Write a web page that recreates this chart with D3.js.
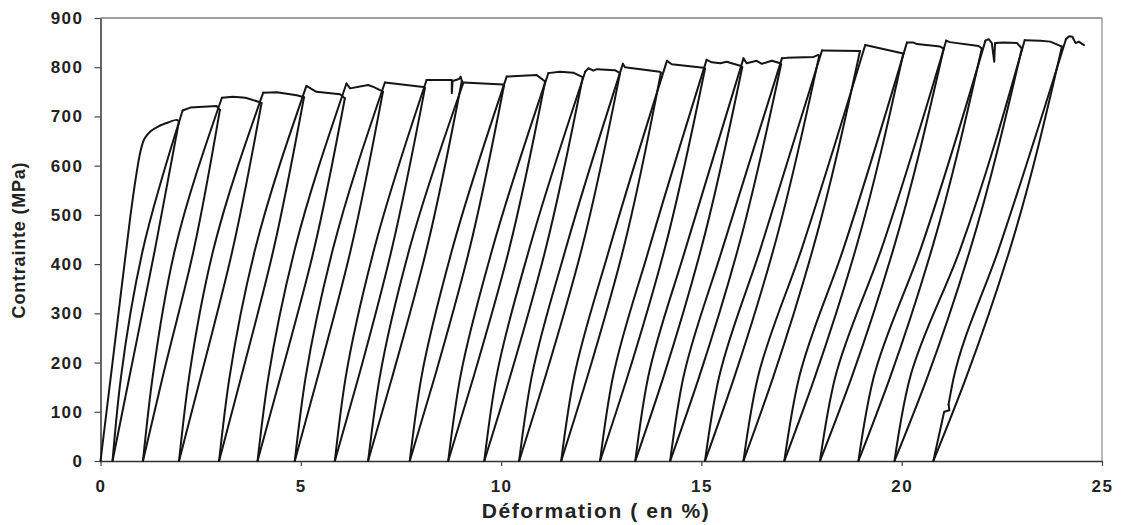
<!DOCTYPE html>
<html>
<head>
<meta charset="utf-8">
<script src="https://cdn.jsdelivr.net/npm/d3@7"></script>
<style>
  html, body { margin: 0; padding: 0; background: #fff; }
  svg { display: block; }
  .tick text { font-family: "Liberation Sans", Arial, sans-serif; font-weight: bold; font-size: 17px; fill: #222; letter-spacing: 1.5px; }
  .title { font-family: "Liberation Sans", Arial, sans-serif; font-weight: bold; fill: #222; }
</style>
</head>
<body>
<svg id="chart" width="1121" height="525"></svg>
<script>
// ---------- DATA ----------
const xTicks = [0, 5, 10, 15, 20, 25];
const yTicks = [0, 100, 200, 300, 400, 500, 600, 700, 800, 900];
const xLabel = "Déformation ( en %)";
const yLabel = "Contrainte (MPa)";

// first monotonic loading [strain %, stress MPa]
const firstLoading = [[0,0],[0.3,200],[0.55,368],[0.75,500],[0.9,585],[1.0,630],[1.1,655],[1.25,670],[1.45,680],[1.7,688],[1.9,693],[1.96,690]];

// residual strain at zero stress after each unloading
const residualStrain = [0.30,1.06,1.96,2.96,3.92,4.85,5.85,6.68,7.72,8.68,9.58,10.45,11.50,12.47,13.35,14.22,15.09,16.05,17.07,17.96,18.92,19.82,20.79];

// stress levels at which the loop branches were read
const midStress = [170, 430];
// unloading branch strains at 170 and 430 MPa
const unloadAt170 = [0.72,1.55,2.50,3.51,4.49,5.42,6.44,7.28,8.34,9.31,10.22,11.10,12.15,13.15,14.05,14.94,15.82,16.79,17.83,18.75,19.71,20.64,21.61];
const unloadAt430 = [1.36,2.33,3.30,4.32,5.33,6.25,7.27,8.14,9.21,10.20,11.11,12.01,13.05,14.08,14.99,15.91,16.80,17.78,18.85,19.79,20.75,21.71,22.70];
// reloading branch strains at 170 and 430 MPa
const reloadAt170 = [0.51,1.30,2.21,3.22,4.19,5.12,6.12,6.97,8.01,8.98,9.88,10.76,11.82,12.79,13.67,14.55,15.44,16.41,17.44,18.34,19.30,20.21,21.30];
const reloadAt430 = [1.06,1.86,2.82,3.86,4.85,5.80,6.83,7.71,8.78,9.78,10.70,11.61,12.70,13.69,14.60,15.52,16.47,17.50,18.54,19.49,20.47,21.46,22.42];
// small jog on the last reloading branch
const lastReloadJog = [[21.06,100],[21.19,103],[21.17,115]];

// plastic plateaus reached after each reloading (last point = next unloading start)
const plateaus = [
  [[2.05,712],[2.24,718],[2.90,721],[2.98,713]],
  [[3.03,738],[3.31,740],[3.62,738],[3.94,730],[4.02,727]],
  [[4.06,748],[4.40,749],[4.90,743],[5.08,739]],
  [[5.14,762],[5.39,750],[5.98,745],[6.10,737]],
  [[6.14,767],[6.23,757],[6.68,764],[6.81,760],[7.02,752],[7.05,750]],
  [[7.10,769],[8.06,760],[8.10,758]],
  [[8.14,774],[8.77,774],[8.77,747],[8.79,772],[8.95,776],[8.99,781],[9.02,772]],
  [[9.06,769],[10.05,765],[10.07,762]],
  [[10.14,781],[10.89,784],[11.10,771]],
  [[11.18,788],[11.47,791],[11.64,790],[11.80,789],[12.01,781],[12.04,780]],
  [[12.10,791],[12.18,798],[12.30,793],[12.39,796],[12.84,794],[12.97,788]],
  [[13.04,807],[13.09,800],[13.96,791],[13.99,789]],
  [[14.14,813],[14.26,806],[15.05,799],[15.09,797]],
  [[15.13,815],[15.26,810],[15.47,808],[15.63,811],[15.97,803],[16.02,800]],
  [[16.05,818],[16.13,808],[16.38,813],[16.51,807],[16.76,813],[16.97,808],[16.99,806]],
  [[17.01,818],[17.13,819],[17.80,821],[17.92,825],[17.94,823]],
  [[18.01,834],[18.96,833]],
  [[19.09,845],[20.04,828]],
  [[20.13,850],[20.30,850],[20.38,847],[20.96,842],[21.05,838]],
  [[21.11,854],[21.20,851],[21.92,843],[22.00,838]],
  [[22.09,854],[22.17,857],[22.25,849],[22.31,811],[22.33,849],[22.54,850],[22.88,849],[23.00,838]],
  [[23.07,855],[23.46,854],[23.71,852],[24.00,842]],
  [[24.10,857],[24.18,863],[24.26,862],[24.34,849],[24.42,852],[24.55,845]]
];

// ---------- LAYOUT ----------
const svg = d3.select("#chart");
const m = { left: 100.5, right: 1102, top: 18, bottom: 461 };
const x = d3.scaleLinear().domain([0, 25]).range([m.left, m.right]);
const y = d3.scaleLinear().domain([0, 900]).range([m.bottom, m.top]);

// frame (top and right)
svg.append("line").attr("x1", m.left).attr("x2", m.right).attr("y1", m.top).attr("y2", m.top)
  .attr("stroke", "#444").attr("stroke-width", 1.2);
svg.append("line").attr("x1", m.right).attr("x2", m.right).attr("y1", m.top).attr("y2", m.bottom)
  .attr("stroke", "#888").attr("stroke-width", 1.2);

// axes
const xAxis = svg.append("g").attr("transform", `translate(0,${m.bottom})`)
  .call(d3.axisBottom(x).tickValues(xTicks).tickSize(5).tickSizeOuter(0).tickPadding(14));
const yAxis = svg.append("g").attr("transform", `translate(${m.left},0)`)
  .call(d3.axisLeft(y).tickValues(yTicks).tickSize(6).tickSizeOuter(0).tickPadding(11));
[xAxis, yAxis].forEach(g => {
  g.select(".domain").attr("stroke", "#333").attr("stroke-width", 1.5);
  g.selectAll(".tick line").attr("stroke", "#444").attr("stroke-width", 1.2);
});

// branches of the test record
const branches = [];
branches.push({ pts: firstLoading, curve: d3.curveCatmullRom.alpha(0.5) });
residualStrain.forEach((e, i) => {
  const start = i === 0 ? firstLoading[firstLoading.length - 1] : plateaus[i - 1][plateaus[i - 1].length - 1];
  // unloading branch (drawn from zero stress up to the unloading point)
  branches.push({ pts: [[e, 0], [unloadAt170[i], midStress[0]], [unloadAt430[i], midStress[1]], start], curve: d3.curveMonotoneY });
  // reloading branch
  const top = plateaus[i][0];
  if (i === residualStrain.length - 1) {
    const jog = [[e, 0]].concat(lastReloadJog);
    branches.push({ pts: jog, curve: d3.curveLinear });
    branches.push({ pts: [jog[jog.length - 1], [reloadAt170[i], midStress[0]], [reloadAt430[i], midStress[1]], top], curve: d3.curveMonotoneY });
  } else {
    branches.push({ pts: [[e, 0], [reloadAt170[i], midStress[0]], [reloadAt430[i], midStress[1]], top], curve: d3.curveMonotoneY });
  }
  // plateau
  branches.push({ pts: plateaus[i], curve: d3.curveLinear });
});

const g = svg.append("g").attr("fill", "none").attr("stroke", "#151515").attr("stroke-width", 2)
  .attr("stroke-linejoin", "round").attr("stroke-linecap", "round");
g.selectAll("path").data(branches).join("path")
  .attr("d", b => d3.line().x(d => x(d[0])).y(d => y(d[1])).curve(b.curve)(b.pts));

// titles
svg.append("text").attr("class", "title").attr("x", 596).attr("y", 518)
  .attr("text-anchor", "middle").style("font-size", "21px").style("letter-spacing", "1.6px").text(xLabel);
svg.append("text").attr("class", "title")
  .attr("transform", "translate(25,240) rotate(-90)")
  .attr("text-anchor", "middle").style("font-size", "18px").style("letter-spacing", "0.8px").text(yLabel);
</script>
</body>
</html>
